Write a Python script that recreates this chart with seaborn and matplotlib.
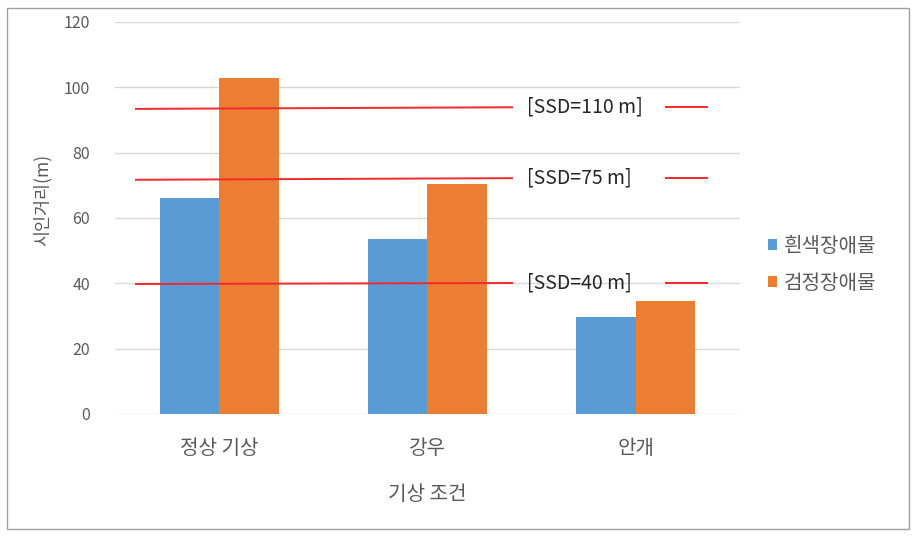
import matplotlib
matplotlib.use("Agg")
import matplotlib.pyplot as plt
import seaborn as sns
import pandas as pd
from matplotlib.patches import Rectangle

# ---- data ----
categories = ["정상 기상", "강우", "안개"]
series_names = ["흰색장애물", "검정장애물"]
white_obstacle = [66.0, 53.6, 29.8]
black_obstacle = [102.8, 70.4, 34.6]
ssd_labels = ["[SSD=110 m]", "[SSD=75 m]", "[SSD=40 m]"]
ssd_left = [93.4, 71.7, 39.8]
ssd_right = [93.9, 72.2, 40.1]
y_ticks = [0, 20, 40, 60, 80, 100, 120]

df = pd.DataFrame({
    "조건": categories * 2,
    "계열": [series_names[0]] * 3 + [series_names[1]] * 3,
    "값": white_obstacle + black_obstacle,
})

sns.set_theme(style="white")
plt.rcParams["font.family"] = ["Noto Sans CJK KR", "DejaVu Sans"]

W, H = 920, 539
fig = plt.figure(figsize=(W / 100, H / 100), dpi=100)
ax = fig.add_axes([115 / W, 1 - 414 / H, (740 - 115) / W, (414 - 22) / H])

palette = {series_names[0]: "#5B9BD5", series_names[1]: "#ED7D31"}
sns.barplot(data=df, x="조건", y="값", hue="계열", palette=palette,
            width=0.57, gap=0, saturation=1, linewidth=0, ax=ax, legend=True, zorder=2)

ax.set_xlim(-0.5, 2.5)
ax.set_ylim(0, 120)
ax.set_yticks(y_ticks)
ax.yaxis.grid(True, color="#D9D9D9", linewidth=1, zorder=0)
ax.set_axisbelow(True)
for s in ax.spines.values():
    s.set_visible(False)
ax.tick_params(axis="y", length=0, pad=18, labelsize=11.5, labelcolor="#595959")
ax.tick_params(axis="x", length=0, pad=17, labelsize=14.5, labelcolor="#595959")
ax.set_xlabel("기상 조건", fontsize=14.5, color="#595959")
ax.xaxis.set_label_coords(0.5, -(495 - 414) / 392)
ax.xaxis.label.set_verticalalignment("center")
ax.set_ylabel("")
fig.text(42 / W, 1 - 200 / H, "시인거리(m)", rotation=90, ha="center", va="center",
         fontsize=12.5, color="#595959")

# SSD lines
line_x0, line_x1 = -0.404, 1.411
seg_x0, seg_x1 = 2.14, 2.347
txt_x = 1.478
for lab, yl, yr in zip(ssd_labels, ssd_left, ssd_right):
    ax.plot([line_x0, line_x1], [yl, yr], color="#EE2A2A", lw=1.4, zorder=4, solid_capstyle="butt")
    ax.plot([seg_x0, seg_x1], [yr, yr], color="#EE2A2A", lw=1.4, zorder=4, solid_capstyle="butt")
    ax.text(txt_x, yr, lab, ha="left", va="center", fontsize=14, color="#262626", zorder=5)

# legend
handles, labels = ax.get_legend_handles_labels()
ax.legend(handles, labels, loc="center left", bbox_to_anchor=(768 / W, 1 - 265 / H),
          bbox_transform=fig.transFigure, frameon=False, fontsize=14.5,
          handlelength=0.45, handleheight=0.45, handletextpad=0.35, labelspacing=0.8,
          borderpad=0, borderaxespad=0, labelcolor="#595959")

# outer frame
fig.patches.append(Rectangle((7 / W, 1 - 529 / H), (909 - 7) / W, (529 - 8) / H,
                             transform=fig.transFigure, fill=False, edgecolor="#A0A0A0", lw=1))

fig.savefig("out.png", dpi=100)
